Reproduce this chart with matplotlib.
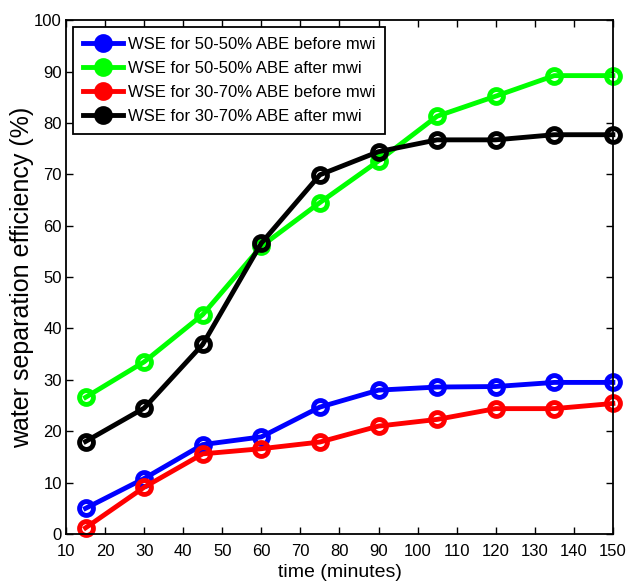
import matplotlib.pyplot as plt

# time (minutes) and water separation efficiency (%)
time_min = [15, 30, 45, 60, 75, 90, 105, 120, 135, 150]
wse_5050_before = [5.0, 10.8, 17.4, 18.9, 24.7, 28.0, 28.6, 28.7, 29.5, 29.5]
wse_5050_after = [26.6, 33.5, 42.7, 56.0, 64.5, 72.6, 81.3, 85.2, 89.2, 89.2]
wse_3070_before = [1.2, 9.1, 15.6, 16.6, 17.9, 21.0, 22.3, 24.4, 24.4, 25.4]
wse_3070_after = [18.0, 24.5, 36.9, 56.6, 69.9, 74.4, 76.7, 76.7, 77.7, 77.7]

labels = ['WSE for 50-50% ABE before mwi', 'WSE for 50-50% ABE after mwi',
          'WSE for 30-70% ABE before mwi', 'WSE for 30-70% ABE after mwi']
colors = ['#0000ff', '#00ff00', '#ff0000', '#000000']

plt.rcParams['font.family'] = ['Liberation Sans', 'DejaVu Sans']

fig = plt.figure(figsize=(6.3, 5.88), dpi=100)
ax = fig.add_axes([0.1048, 0.0918, 0.868, 0.874])

for ys, c, lab in zip([wse_5050_before, wse_5050_after, wse_3070_before, wse_3070_after],
                      colors, labels):
    ax.plot(time_min, ys, color=c, lw=3.5, marker='o', ms=10, mfc='none',
            mec=c, mew=3.5, label=lab, clip_on=False)

ax.set_xlim(10, 150)
ax.set_ylim(0, 100)
ax.set_xticks(range(10, 151, 10))
ax.set_yticks(range(0, 101, 10))
ax.tick_params(direction='in', top=True, right=True, labelsize=12, length=5,
               width=1)
ax.tick_params(axis='x', pad=7)
ax.tick_params(axis='y', pad=3)
for s in ax.spines.values():
    s.set_linewidth(1.3)

ax.set_xlabel('time (minutes)', fontsize=14, labelpad=4)
ax.set_ylabel('water separation efficiency (%)', fontsize=18, labelpad=0)

leg = ax.legend(loc='upper left', fontsize=12, handlelength=2.4, frameon=True,
                fancybox=False, edgecolor='black', borderaxespad=0.4,
                handletextpad=0.3, labelspacing=0.55, borderpad=0.6,
                framealpha=1)
leg.get_frame().set_linewidth(1.3)
for h in leg.legend_handles:
    h.set_markerfacecolor(h.get_color())

fig.savefig('out.png', dpi=100)
